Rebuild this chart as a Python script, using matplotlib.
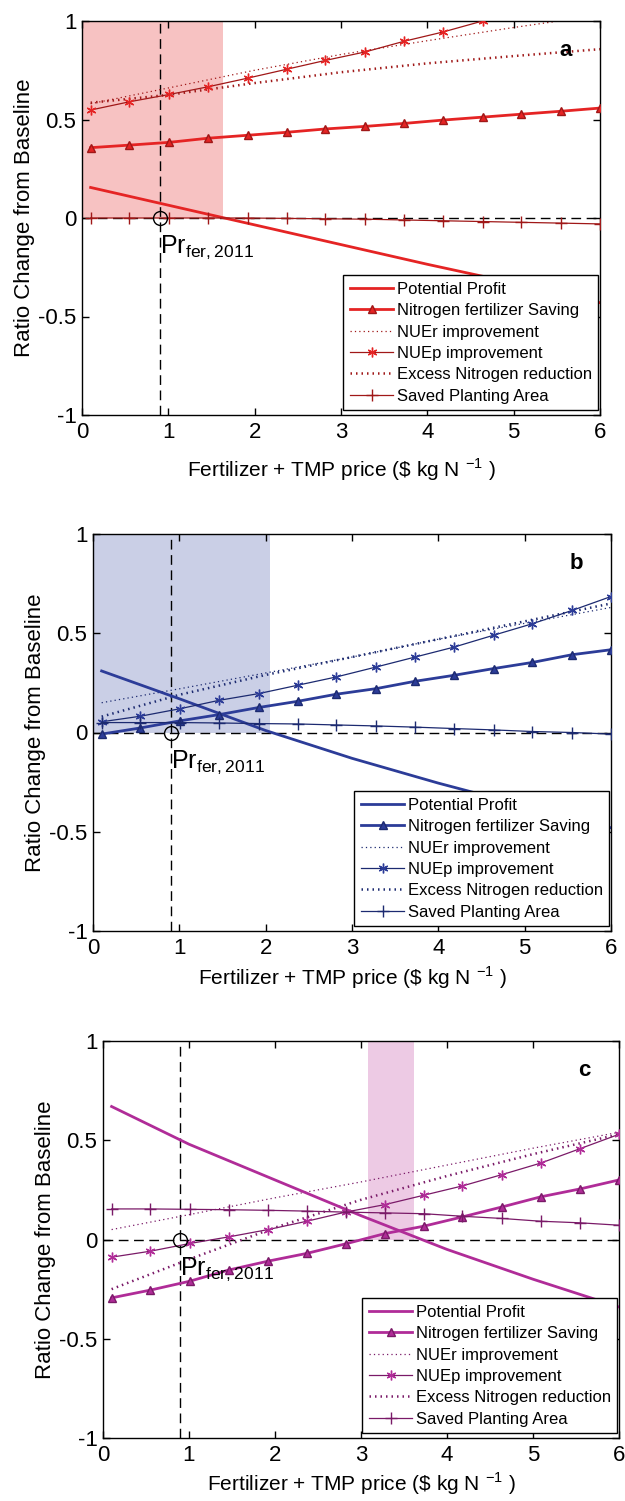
import matplotlib
matplotlib.use("Agg")
import matplotlib.pyplot as plt

plt.rcParams['font.family'] = ['Liberation Sans', 'DejaVu Sans']
plt.rcParams['mathtext.fontset'] = 'custom'
plt.rcParams['mathtext.rm'] = 'Liberation Sans'

# ---------------- data ----------------
x_mark = [0.10, 0.55, 1.01, 1.46, 1.92, 2.37, 2.82, 3.28, 3.73, 4.18, 4.64, 5.09, 5.55, 6.00]
x_line = [0.1, 1, 2, 3, 4, 5, 6]

labels = ["Potential Profit", "Nitrogen fertilizer Saving", "NUEr improvement",
          "NUEp improvement", "Excess Nitrogen reduction", "Saved Planting Area"]

# panel a
a_profit = [0.155, 0.065, -0.035, -0.135, -0.235, -0.33, -0.43]
a_nsave = [0.357, 0.37, 0.384, 0.405, 0.42, 0.435, 0.452, 0.465, 0.48, 0.497, 0.512, 0.527, 0.542, 0.558]
a_nuer = [0.58, 0.66, 0.75, 0.83, 0.90, 0.967, 1.03]
a_nuep = [0.548, 0.59, 0.627, 0.666, 0.71, 0.755, 0.80, 0.843, 0.897, 0.944, 1.0, 1.06, 1.12, 1.18]
a_excess = [0.585, 0.625, 0.685, 0.74, 0.785, 0.822, 0.857]
a_area = [0.0, 0.0, 0.0, 0.0, 0.0, -0.002, -0.004, -0.006, -0.01, -0.014, -0.018, -0.022, -0.026, -0.03]

# panel b
b_profit = [0.31, 0.17, 0.01, -0.13, -0.255, -0.37, -0.48]
b_nsave = [-0.008, 0.023, 0.059, 0.09, 0.126, 0.157, 0.193, 0.221, 0.258, 0.288, 0.322, 0.353, 0.392, 0.417]
b_nuer = [0.15, 0.22, 0.30, 0.38, 0.47, 0.55, 0.63]
b_nuep = [0.054, 0.082, 0.12, 0.162, 0.196, 0.238, 0.28, 0.33, 0.38, 0.43, 0.49, 0.548, 0.615, 0.685]
b_excess = [0.08, 0.19, 0.29, 0.38, 0.47, 0.56, 0.65]
b_area = [0.05, 0.05, 0.05, 0.048, 0.045, 0.043, 0.038, 0.033, 0.027, 0.02, 0.013, 0.005, 0.0, -0.008]

# panel c
c_profit = [0.67, 0.48, 0.30, 0.12, -0.05, -0.20, -0.34]
c_nsave = [-0.294, -0.255, -0.21, -0.154, -0.109, -0.07, -0.022, 0.03, 0.067, 0.114, 0.164, 0.215, 0.255, 0.30]
c_nuer = [0.05, 0.125, 0.21, 0.29, 0.375, 0.46, 0.54]
c_nuep = [-0.089, -0.059, -0.02, 0.013, 0.05, 0.092, 0.138, 0.176, 0.223, 0.27, 0.327, 0.385, 0.458, 0.53]
c_excess = [-0.25, -0.10, 0.06, 0.20, 0.32, 0.43, 0.53]
c_area = [0.154, 0.154, 0.152, 0.15, 0.147, 0.143, 0.138, 0.134, 0.13, 0.117, 0.106, 0.092, 0.084, 0.072]

pr_2011 = 0.9
shade_a = (0.0, 1.63)
shade_b = (0.0, 2.05)
shade_c = (3.08, 3.62)

xticks = [0, 1, 2, 3, 4, 5, 6]
yticks = [-1, -0.5, 0, 0.5, 1]
yticklabels = ["-1", "-0.5", "0", "0.5", "1"]

panels = [
    dict(rect=[82/625, (1501-415)/1501, 518/625, 394/1501], color='#e52424', dark='#a01818',
         shade='#f7c2c2', span=shade_a, tag='a', xpad=10,
         data=(a_profit, a_nsave, a_nuer, a_nuep, a_excess, a_area)),
    dict(rect=[93/625, (1501-931)/1501, 518/625, 397/1501], color='#2c3c98', dark='#1c2a70',
         shade='#cacfe6', span=shade_b, tag='b', xpad=4,
         data=(b_profit, b_nsave, b_nuer, b_nuep, b_excess, b_area)),
    dict(rect=[103/625, (1501-1438)/1501, 516/625, 397/1501], color='#b02c98', dark='#7a1a68',
         shade='#edcae4', span=shade_c, tag='c', xpad=3,
         data=(c_profit, c_nsave, c_nuer, c_nuep, c_excess, c_area)),
]

fig = plt.figure(figsize=(6.25, 15.01), dpi=100)

for p in panels:
    ax = fig.add_axes(p['rect'])
    col, dark = p['color'], p['dark']
    profit, nsave, nuer, nuep, excess, area = p['data']
    ax.fill_between(p['span'], [0, 0], [1, 1], color=p['shade'], lw=0, zorder=0)
    ax.axhline(0, color='black', lw=1.0, dashes=(7, 4), zorder=1)
    ax.axvline(pr_2011, color='black', lw=1.0, dashes=(7, 4), zorder=1)

    h1, = ax.plot(x_line, profit, color=col, lw=2.0, zorder=3)
    h2, = ax.plot(x_mark, nsave, color=col, lw=2.0, marker='^', ms=6,
                  mec=dark, mfc=col, zorder=3)
    h3, = ax.plot(x_line, nuer, color=dark, lw=0.9, ls=(0, (1, 2.5)), zorder=2)
    h4, = ax.plot(x_mark, nuep, color=dark, lw=0.9, marker=(6, 2, 0), ms=7, mew=1.0,
                  mec=col, mfc=col, zorder=3)
    h5, = ax.plot(x_line, excess, color=dark, lw=1.8, ls=(0, (0.6, 1.6)), zorder=2)
    h6, = ax.plot(x_mark, area, color=dark, lw=0.9, marker='+', ms=9, mew=1.0,
                  mec=dark, zorder=3)

    ax.plot([pr_2011], [0], marker='o', ms=10, mfc='none', mec='black', mew=1.0, zorder=4)
    ax.text(pr_2011, -0.08, r'Pr$_{\mathregular{fer,2011}}$', fontsize=18,
            ha='left', va='top', zorder=5)
    ax.text(5.6, 0.85, p['tag'], fontsize=16, fontweight='bold', ha='center', va='center')

    ax.set_xlim(0, 6)
    ax.set_ylim(-1, 1)
    ax.set_xticks(xticks)
    ax.set_yticks(yticks)
    ax.set_yticklabels(yticklabels)
    ax.tick_params(direction='in', length=5, width=1, top=True, right=True,
                   labelsize=16, pad=4)
    ax.tick_params(axis='x', pad=5)
    for s in ax.spines.values():
        s.set_linewidth(1.0)
    ax.set_ylabel('Ratio Change from Baseline', fontsize=16, labelpad=2)
    ax.set_xlabel(r'Fertilizer + TMP price (\$ kg N $^{\mathregular{-1}}$ )', fontsize=15,
                  labelpad=p['xpad'])

    leg = ax.legend([h1, h2, h3, h4, h5, h6], labels, loc='lower right',
                    bbox_to_anchor=(0.997, 0.012), fontsize=12, frameon=True,
                    fancybox=False, edgecolor='black', framealpha=1,
                    handlelength=2.6, handletextpad=0.2, labelspacing=0.38,
                    borderpad=0.4, borderaxespad=0)
    leg.get_frame().set_linewidth(1.0)

fig.savefig('out.png', dpi=100)
